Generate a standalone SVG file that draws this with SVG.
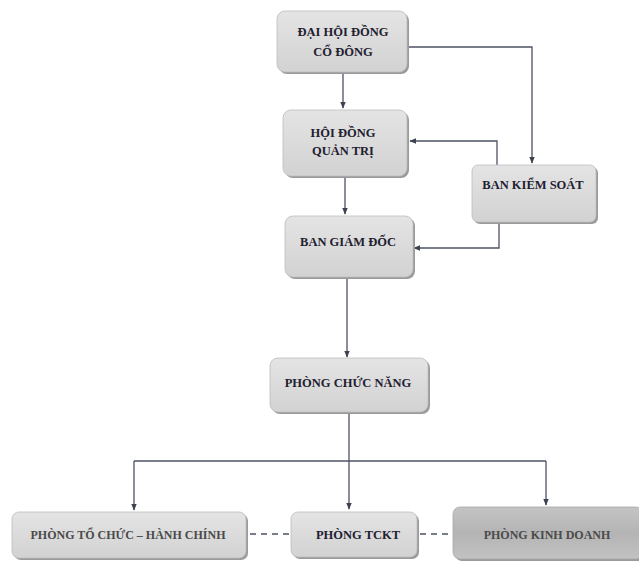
<svg xmlns="http://www.w3.org/2000/svg" width="639" height="562" viewBox="0 0 639 562">
<defs>
<linearGradient id="g" x1="0" y1="0" x2="0" y2="1">
<stop offset="0" stop-color="#e4e4e4"/><stop offset="1" stop-color="#d2d2d2"/>
</linearGradient>
<linearGradient id="gd" x1="0" y1="0" x2="0" y2="1">
<stop offset="0" stop-color="#c4c4c4"/><stop offset="0.5" stop-color="#b4b4b4"/><stop offset="1" stop-color="#c2c2c2"/>
</linearGradient>
<marker id="ar" viewBox="0 0 10 10" refX="9" refY="5" markerWidth="7" markerHeight="7" orient="auto" markerUnits="userSpaceOnUse">
<path d="M0,1 L10,5 L0,9 z" fill="#3e4150"/>
</marker>
</defs>
<style>
.sh{fill:#9a9a9a}
.bx{fill:url(#g);stroke:#bdbdbd;stroke-width:0.8}
.bxd{fill:url(#gd);stroke:#a8a8a8;stroke-width:0.8}
.t{font-family:"Liberation Serif","Times New Roman",serif;font-weight:bold;font-size:12.5px;fill:#1e2030;text-anchor:middle}
.tb{font-family:"Liberation Serif","Times New Roman",serif;font-weight:bold;font-size:12px;fill:#4a4a4a;text-anchor:middle}
.c{fill:none;stroke:#4e5263;stroke-width:1.3}
.d{fill:none;stroke:#4e5263;stroke-width:1.3;stroke-dasharray:6,5}
</style>
<rect width="639" height="562" fill="#ffffff"/>
<g id="connectors">
<path class="c" d="M343,73 V108" marker-end="url(#ar)"/>
<path class="c" d="M408,47 H532 V163" marker-end="url(#ar)"/>
<path class="c" d="M497,165 V141 H410" marker-end="url(#ar)"/>
<path class="c" d="M345,177 V214" marker-end="url(#ar)"/>
<path class="c" d="M499,222 V248 H414" marker-end="url(#ar)"/>
<path class="c" d="M347,277 V357" marker-end="url(#ar)"/>
<path class="c" d="M349,412 V509" marker-end="url(#ar)"/>
<path class="c" d="M134,461 H546"/>
<path class="c" d="M134,461 V510" marker-end="url(#ar)"/>
<path class="c" d="M546,461 V505" marker-end="url(#ar)"/>
<path class="d" d="M250,534 H290"/>
<path class="d" d="M420,534 H452"/>
</g>
<g id="n1">
<rect class="sh" x="279" y="13" width="130" height="61" rx="8"/>
<rect class="bx" x="277" y="11" width="130" height="61" rx="8"/>
<text class="t" x="343" y="36">ĐẠI HỘI ĐỒNG</text>
<text class="t" x="343" y="56">CỔ ĐÔNG</text>
</g>
<g id="n2">
<rect class="sh" x="285" y="112" width="124" height="66" rx="8"/>
<rect class="bx" x="283" y="110" width="124" height="66" rx="8"/>
<text class="t" x="343" y="137">HỘI ĐỒNG</text>
<text class="t" x="343" y="155">QUẢN TRỊ</text>
</g>
<g id="n3">
<rect class="sh" x="474" y="167" width="124" height="57" rx="6"/>
<rect class="bx" x="472" y="165" width="124" height="57" rx="6"/>
<text class="t" x="533" y="189">BAN KIỂM SOÁT</text>
</g>
<g id="n4">
<rect class="sh" x="287" y="218" width="128" height="61" rx="8"/>
<rect class="bx" x="285" y="216" width="128" height="61" rx="8"/>
<text class="t" x="348" y="246">BAN GIÁM ĐỐC</text>
</g>
<g id="n5">
<rect class="sh" x="272" y="360" width="158" height="54" rx="8"/>
<rect class="bx" x="270" y="358" width="158" height="54" rx="8"/>
<text class="t" x="348" y="387">PHÒNG CHỨC NĂNG</text>
</g>
<g id="n6">
<rect class="sh" x="14" y="514" width="234" height="46" rx="7"/>
<rect class="bx" x="12" y="512" width="234" height="46" rx="7"/>
<text class="tb" x="128" y="539">PHÒNG TỔ CHỨC – HÀNH CHÍNH</text>
</g>
<g id="n7">
<rect class="sh" x="293" y="514" width="126" height="45" rx="7"/>
<rect class="bx" x="291" y="512" width="126" height="45" rx="7"/>
<text class="t" x="358" y="539">PHÒNG TCKT</text>
</g>
<g id="n8">
<rect class="sh" x="455" y="509" width="190" height="52" rx="7"/>
<rect class="bxd" x="453" y="507" width="190" height="52" rx="7"/>
<text class="tb" x="547" y="539">PHÒNG KINH DOANH</text>
</g>
</svg>
